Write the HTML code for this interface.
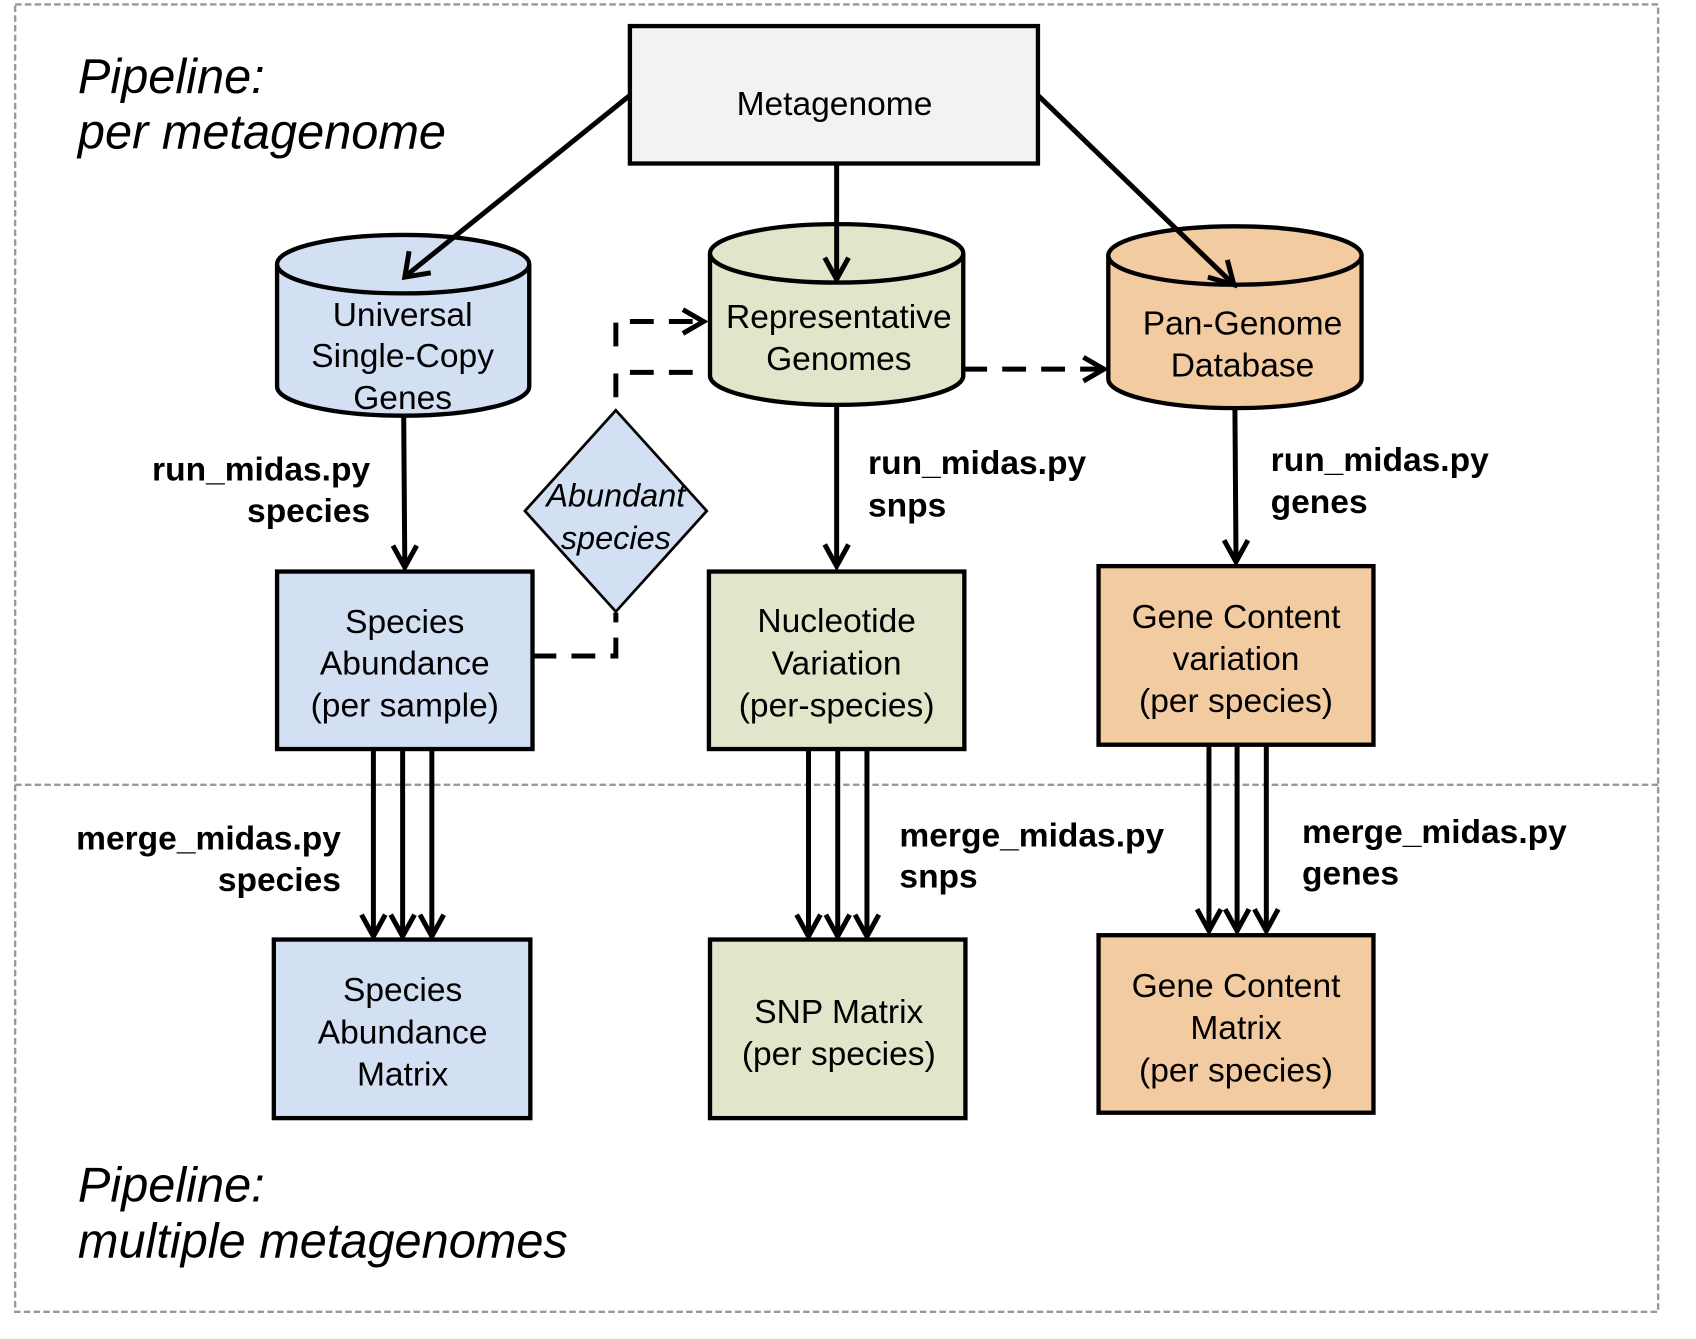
<!DOCTYPE html>
<html><head><meta charset="utf-8"><style>html,body{margin:0;padding:0;background:#fff}svg{display:block}</style></head>
<body>
<svg width="1696" height="1339" viewBox="0 0 1567 1237" xmlns="http://www.w3.org/2000/svg" font-family="Liberation Sans, Arial, sans-serif">
<rect width="1567" height="1237" fill="#fff"/>
<g fill="none" stroke="#999" stroke-width="2.2" stroke-dasharray="6,3">
<rect x="14" y="4" width="1518" height="1208"/>
<line x1="14" y1="725" x2="1532" y2="725"/>
</g>
<g font-style="italic" font-size="45" fill="#000">
<text x="72" y="86">Pipeline:</text>
<text x="72" y="137">per metagenome</text>
<text x="72" y="1110">Pipeline:</text>
<text x="72" y="1162">multiple metagenomes</text>
</g>
<g stroke="#000" stroke-width="4">
<rect x="582" y="24" width="377" height="127" fill="#f2f2f2"/>
<path d="M256 244 V357 A116.5 27 0 0 0 489 357 V244" fill="#d3dff2"/>
<ellipse cx="372.5" cy="244" rx="116.5" ry="27" fill="#d3dff2"/>
<path d="M656 234 V347 A117 27 0 0 0 890 347 V234" fill="#dfe6c9"/>
<ellipse cx="773" cy="234" rx="117" ry="27" fill="#dfe6c9"/>
<path d="M1024 236 V350 A117 27 0 0 0 1258 350 V236" fill="#f3cba0"/>
<ellipse cx="1141" cy="236" rx="117" ry="27" fill="#f3cba0"/>
<rect x="256" y="528" width="236" height="164" fill="#d3dff2"/>
<rect x="655" y="528" width="236" height="164" fill="#dfe6c9"/>
<rect x="1015" y="523" width="254" height="165" fill="#f3cba0"/>
<rect x="253" y="868" width="237" height="165" fill="#d3dff2"/>
<rect x="656" y="868" width="236" height="165" fill="#dfe6c9"/>
<rect x="1015" y="864" width="254" height="164" fill="#f3cba0"/>
</g>
<polygon points="569,379 653,472 569,565 485,472" fill="#d3dff2" stroke="#000" stroke-width="2.5"/>
<g fill="none" stroke="#000" stroke-width="4.6" stroke-linecap="butt">
<line x1="582" y1="88" x2="376" y2="254"/>
<polyline points="378,232 374,256 398,252"/>
<line x1="773" y1="151" x2="773" y2="256"/>
<polyline points="762,238 773,258 784,238"/>
<line x1="959" y1="88" x2="1138" y2="261"/>
<polyline points="1116,256 1140,263 1134,240"/>
<line x1="373" y1="385" x2="374" y2="522"/>
<polyline points="363,504 374,524 385,504"/>
<line x1="773" y1="375" x2="773" y2="521"/>
<polyline points="762,503 773,523 784,503"/>
<line x1="1141" y1="378" x2="1142" y2="517"/>
<polyline points="1131,499 1142,519 1153,499"/>
<line x1="345" y1="692" x2="345" y2="863"/><line x1="372" y1="692" x2="372" y2="863"/><line x1="399" y1="692" x2="399" y2="863"/>
<polyline points="334,845 345,865 356,845"/><polyline points="361,845 372,865 383,845"/><polyline points="388,845 399,865 410,845"/>
<line x1="747" y1="692" x2="747" y2="863"/><line x1="774" y1="692" x2="774" y2="863"/><line x1="801" y1="692" x2="801" y2="863"/>
<polyline points="736,845 747,865 758,845"/><polyline points="763,845 774,865 785,845"/><polyline points="790,845 801,865 812,845"/>
<line x1="1117" y1="688" x2="1117" y2="858"/><line x1="1143" y1="688" x2="1143" y2="858"/><line x1="1170" y1="688" x2="1170" y2="858"/>
<polyline points="1106,840 1117,860 1128,840"/><polyline points="1132,840 1143,860 1154,840"/><polyline points="1159,840 1170,860 1181,840"/>
<g stroke-dasharray="22,14">
<polyline points="492,606 569,606 569,566"/>
<polyline points="640,344 569,344 569,379"/>
<polyline points="569,320 569,297 648,297"/>
<polyline points="890,341 1018,341"/>
</g>
<polyline points="631,286 650,297 631,308"/>
<polyline points="1001,330 1020,341 1001,352"/>
</g>
<g font-size="31" text-anchor="middle" fill="#000">
<text x="771" y="106">Metagenome</text>
<text x="372" y="301">Universal</text><text x="372" y="339">Single-Copy</text><text x="372" y="378">Genes</text>
<text x="775" y="303">Representative</text><text x="775" y="342">Genomes</text>
<text x="1148" y="309">Pan-Genome</text><text x="1148" y="348">Database</text>
<text x="374" y="585">Species</text><text x="374" y="623">Abundance</text><text x="374" y="662">(per sample)</text>
<text x="773" y="584">Nucleotide</text><text x="773" y="623">Variation</text><text x="773" y="662">(per-species)</text>
<text x="1142" y="580">Gene Content</text><text x="1142" y="619">variation</text><text x="1142" y="658">(per species)</text>
<text x="372" y="925">Species</text><text x="372" y="964">Abundance</text><text x="372" y="1003">Matrix</text>
<text x="775" y="945">SNP Matrix</text><text x="775" y="984">(per species)</text>
<text x="1142" y="921">Gene Content</text><text x="1142" y="960">Matrix</text><text x="1142" y="999">(per species)</text>
<g font-style="italic" font-size="30"><text x="569" y="468">Abundant</text><text x="569" y="507">species</text></g>
</g>
<g font-size="31" font-weight="bold" fill="#000">
<g text-anchor="end">
<text x="342" y="444">run_midas.py</text><text x="342" y="482">species</text>
<text x="315" y="785">merge_midas.py</text><text x="315" y="823">species</text>
</g>
<text x="802" y="438">run_midas.py</text><text x="802" y="477">snps</text>
<text x="1174" y="435">run_midas.py</text><text x="1174" y="474">genes</text>
<text x="831" y="782">merge_midas.py</text><text x="831" y="820">snps</text>
<text x="1203" y="779">merge_midas.py</text><text x="1203" y="817">genes</text>
</g>
</svg>
</body></html>
